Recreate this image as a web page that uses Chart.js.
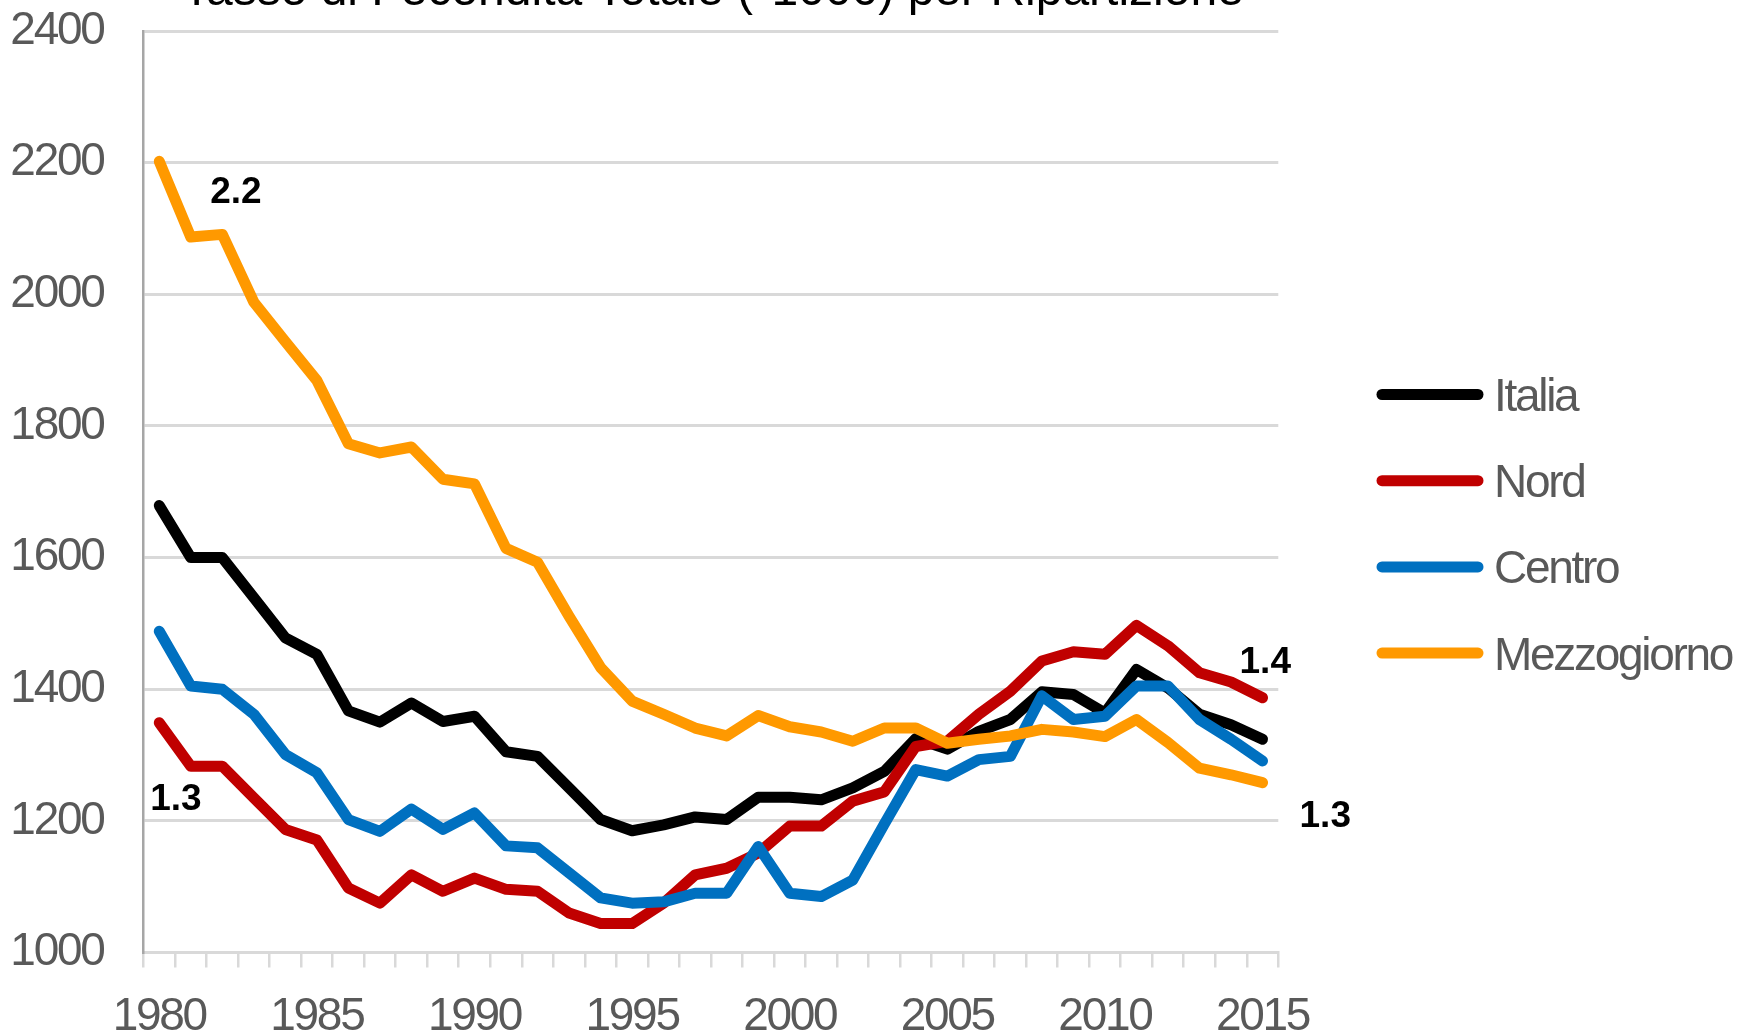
<!DOCTYPE html>
<html>
<head>
<meta charset="utf-8">
<script src="https://cdn.jsdelivr.net/npm/chart.js@4.4.1/dist/chart.umd.min.js"></script>
<style>
  html, body { margin: 0; padding: 0; background: #fff; }
  #wrap { width: 1737px; height: 1031px; position: relative; }
</style>
</head>
<body>
<div id="wrap"><canvas id="tft" width="1737" height="1031"></canvas></div>
<script>
// ── Data ──
const years = Array.from({ length: 36 }, (_, i) => String(1980 + i));
const italia = [1679, 1600, 1600, 1539, 1478, 1453, 1367, 1350, 1379, 1351, 1359, 1305, 1298, 1250, 1202, 1185, 1194, 1206, 1202, 1236, 1236, 1232, 1250, 1275, 1325, 1309, 1336, 1354, 1396, 1392, 1364, 1430, 1402, 1362, 1346, 1324];
const nord = [1349, 1283, 1283, 1235, 1187, 1171, 1098, 1075, 1118, 1093, 1113, 1096, 1093, 1060, 1044, 1044, 1075, 1118, 1128, 1151, 1192, 1192, 1230, 1244, 1313, 1321, 1362, 1397, 1443, 1457, 1453, 1497, 1466, 1425, 1411, 1387];
const centro = [1488, 1405, 1400, 1362, 1301, 1273, 1202, 1184, 1218, 1187, 1212, 1162, 1159, 1121, 1083, 1075, 1077, 1090, 1090, 1161, 1090, 1085, 1110, 1195, 1278, 1268, 1293, 1298, 1390, 1354, 1359, 1405, 1405, 1354, 1324, 1291];
const mezzogiorno = [2202, 2087, 2091, 1988, 1928, 1869, 1773, 1759, 1768, 1719, 1712, 1614, 1593, 1511, 1433, 1382, 1362, 1341, 1329, 1360, 1343, 1335, 1321, 1341, 1341, 1318, 1324, 1329, 1339, 1335, 1328, 1354, 1319, 1280, 1270, 1258];
const seriesNames = ['Italia', 'Nord', 'Centro', 'Mezzogiorno'];
const seriesColors = ['#000000', '#C00000', '#0070C0', '#FF9900'];
const yTicks = [1000, 1200, 1400, 1600, 1800, 2000, 2200, 2400];
const titleText = 'Tasso di Fecondità Totale (*1000) per Ripartizione';

// value labels (TFT = value / 1000) hung on selected points
const callouts = [
    { ds: 3, idx: 0, dx: 51, dy: 42 },
    { ds: 1, idx: 0, dx: -9, dy: 87 },
    { ds: 1, idx: 35, dx: -23, dy: -25 },
    { ds: 3, idx: 35, dx: 37, dy: 44 },
];

const FONT = '"Liberation Sans", Arial, sans-serif';
const GREY_TXT = '#595959';
const TIGHT = '-2.3px';

// ── Extras: title, legend, callouts ──
const extras = {
    id: 'extras',
    beforeDraw(chart) { chart.ctx.letterSpacing = TIGHT; },
    afterDatasetsDraw(chart) {
        const ctx = chart.ctx;
        ctx.save();
        ctx.letterSpacing = '0px';
        ctx.fillStyle = '#000';
        ctx.font = 'bold 37px ' + FONT;
        ctx.textAlign = 'left';
        ctx.textBaseline = 'alphabetic';
        callouts.forEach(c => {
            const pt = chart.getDatasetMeta(c.ds).data[c.idx];
            const v = chart.data.datasets[c.ds].data[c.idx];
            ctx.fillText((v / 1000).toFixed(1), pt.x + c.dx, pt.y + c.dy);
        });
        ctx.restore();
    },
    afterDraw(chart) {
        const ctx = chart.ctx;
        const area = chart.chartArea;
        ctx.save();
        // title (mostly cropped off the top)
        ctx.letterSpacing = '0px';
        ctx.fillStyle = '#000';
        ctx.font = '48px ' + FONT;
        ctx.textAlign = 'center';
        ctx.textBaseline = 'alphabetic';
        ctx.fillText(titleText, (area.left + area.right) / 2 + 2, 5);

        // legend
        ctx.letterSpacing = TIGHT;
        ctx.font = '46px ' + FONT;
        ctx.textAlign = 'left';
        ctx.lineCap = 'round';
        ctx.lineWidth = 11;
        seriesNames.forEach((name, i) => {
            const y = 394.5 + i * 86.2;
            ctx.strokeStyle = seriesColors[i];
            ctx.beginPath();
            ctx.moveTo(1382, y);
            ctx.lineTo(1478, y);
            ctx.stroke();
            ctx.fillStyle = GREY_TXT;
            ctx.fillText(name, 1494, y + 16.5);
        });
        ctx.restore();
        ctx.letterSpacing = '0px';
    }
};

const seriesData = [italia, nord, centro, mezzogiorno];

new Chart(document.getElementById('tft'), {
    type: 'line',
    data: {
        labels: years,
        datasets: seriesData.map((d, i) => ({
            label: seriesNames[i],
            data: d,
            borderColor: seriesColors[i],
            backgroundColor: seriesColors[i],
            borderWidth: 11,
            borderJoinStyle: 'round',
            borderCapStyle: 'round',
            pointRadius: 0,
            pointHoverRadius: 0,
            tension: 0,
            fill: false,
            order: 4 - i
        }))
    },
    options: {
        responsive: false,
        animation: false,
        events: [],
        layout: { padding: { left: 0, right: 458.7, top: 31, bottom: 0 } },
        plugins: {
            legend: { display: false },
            title: { display: false },
            tooltip: { enabled: false }
        },
        scales: {
            x: {
                type: 'category',
                offset: true,
                grid: {
                    offset: true,
                    drawOnChartArea: false,
                    drawTicks: true,
                    tickLength: 15,
                    color: '#d9d9d9',
                    lineWidth: 2.5
                },
                border: { display: true, color: '#d9d9d9', width: 3 },
                ticks: {
                    autoSkip: false,
                    maxRotation: 0,
                    minRotation: 0,
                    padding: 22,
                    color: GREY_TXT,
                    font: { family: FONT, size: 46 },
                    callback: (val, i) => (Number(years[i]) % 5 === 0 ? years[i] : '')
                },
                afterFit: s => { s.height = 78.5; s.paddingLeft = 0; s.paddingRight = 0; }
            },
            y: {
                min: 1000,
                max: 2400,
                afterBuildTicks: s => { s.ticks = yTicks.map(v => ({ value: v })); },
                grid: { color: '#d9d9d9', lineWidth: 3, drawTicks: false },
                border: { display: true, color: '#a6a6a6', width: 2.5 },
                ticks: {
                    padding: 40,
                    color: GREY_TXT,
                    font: { family: FONT, size: 46 },
                    callback: v => String(v)
                },
                afterFit: s => { s.width = 143.5; s.paddingTop = 0; s.paddingBottom = 0; }
            }
        }
    },
    plugins: [extras]
});
</script>
</body>
</html>
